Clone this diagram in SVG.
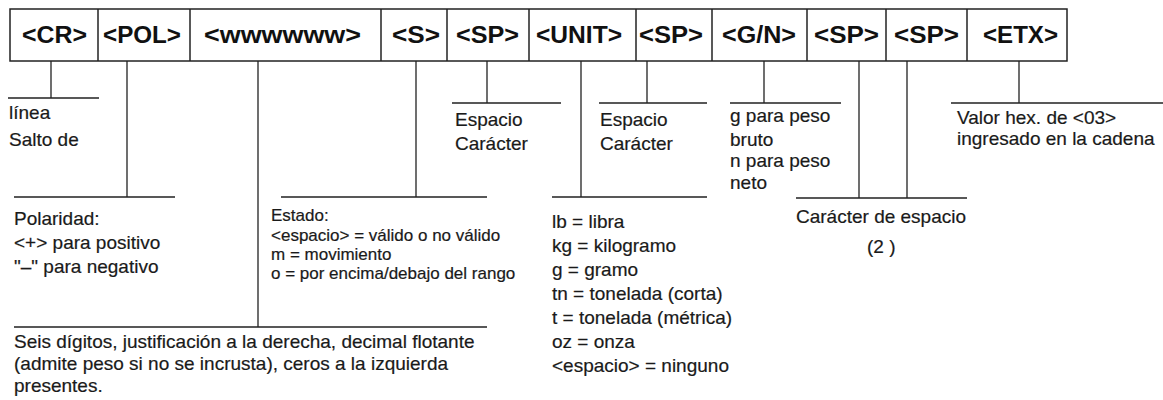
<svg xmlns="http://www.w3.org/2000/svg" width="1163" height="400" viewBox="0 0 1163 400">
<style>
.bx{fill:#fff;stroke:#222;stroke-width:1.5}
.dv{stroke:#222;stroke-width:1.5}
.ld{stroke:#222;stroke-width:1.3;fill:none}
.lb{font-family:"Liberation Sans",Arial,sans-serif;font-weight:bold;font-size:23px;fill:#111;text-anchor:middle}
.t{font-family:"Liberation Sans",Arial,sans-serif;font-size:19px;fill:#1a1a1a;stroke:#1a1a1a;stroke-width:0.2}
.s{font-family:"Liberation Sans",Arial,sans-serif;font-size:17px;fill:#1a1a1a;stroke:#1a1a1a;stroke-width:0.2}
</style>
<rect width="1163" height="400" fill="#fff"/>
<g id="frame">
<rect class="bx" x="10" y="9" width="1057" height="52"/>
<line class="dv" x1="98" y1="9" x2="98" y2="61"/>
<line class="dv" x1="190" y1="9" x2="190" y2="61"/>
<line class="dv" x1="381" y1="9" x2="381" y2="61"/>
<line class="dv" x1="447" y1="9" x2="447" y2="61"/>
<line class="dv" x1="529" y1="9" x2="529" y2="61"/>
<line class="dv" x1="636" y1="9" x2="636" y2="61"/>
<line class="dv" x1="712" y1="9" x2="712" y2="61"/>
<line class="dv" x1="807" y1="9" x2="807" y2="61"/>
<line class="dv" x1="886" y1="9" x2="886" y2="61"/>
<line class="dv" x1="967" y1="9" x2="967" y2="61"/>
</g>
<g id="field-cr"><text class="lb" x="54.5" y="43" textLength="65" lengthAdjust="spacingAndGlyphs">&lt;CR&gt;</text></g>
<g id="field-pol"><text class="lb" x="142" y="43" textLength="78" lengthAdjust="spacingAndGlyphs">&lt;POL&gt;</text></g>
<g id="field-w"><text class="lb" x="282.5" y="43" textLength="157" lengthAdjust="spacingAndGlyphs">&lt;wwwwww&gt;</text></g>
<g id="field-s"><text class="lb" x="416" y="43" textLength="48" lengthAdjust="spacingAndGlyphs">&lt;S&gt;</text></g>
<g id="field-sp1"><text class="lb" x="487.5" y="43" textLength="63" lengthAdjust="spacingAndGlyphs">&lt;SP&gt;</text></g>
<g id="field-unit"><text class="lb" x="579" y="43" textLength="86" lengthAdjust="spacingAndGlyphs">&lt;UNIT&gt;</text></g>
<g id="field-sp2"><text class="lb" x="671" y="43" textLength="64" lengthAdjust="spacingAndGlyphs">&lt;SP&gt;</text></g>
<g id="field-gn"><text class="lb" x="759" y="43" textLength="74" lengthAdjust="spacingAndGlyphs">&lt;G/N&gt;</text></g>
<g id="field-sp3"><text class="lb" x="846.5" y="43" textLength="65" lengthAdjust="spacingAndGlyphs">&lt;SP&gt;</text></g>
<g id="field-sp4"><text class="lb" x="926.5" y="43" textLength="65" lengthAdjust="spacingAndGlyphs">&lt;SP&gt;</text></g>
<g id="field-etx"><text class="lb" x="1020.5" y="43" textLength="75" lengthAdjust="spacingAndGlyphs">&lt;ETX&gt;</text></g>

<g id="connectors">
<path class="ld" d="M51 61V98M8 98H99"/>
<path class="ld" d="M127 61V197M14 197H175"/>
<path class="ld" d="M258 61V327M14 327H487"/>
<path class="ld" d="M416 61V197M281 197H487"/>
<path class="ld" d="M487 61V103M452 103H561"/>
<path class="ld" d="M581 61V197M552 197H707"/>
<path class="ld" d="M647 61V103M599 103H707"/>
<path class="ld" d="M764 61V103M730 103H841"/>
<path class="ld" d="M859 61V198M907 61V198M796 198H967"/>
<path class="ld" d="M1019 61V103M951 103H1163"/>
</g>

<g id="note-cr">
<text class="t" x="9" y="119">línea</text>
<text class="t" x="9" y="146">Salto de</text>
</g>
<g id="note-sp1">
<text class="t" x="455" y="126">Espacio</text>
<text class="t" x="455" y="150">Carácter</text>
</g>
<g id="note-sp2">
<text class="t" x="600" y="126">Espacio</text>
<text class="t" x="600" y="150">Carácter</text>
</g>
<g id="note-gn">
<text class="t" x="730" y="122">g para peso</text>
<text class="t" x="730" y="146">bruto</text>
<text class="t" x="730" y="167">n para peso</text>
<text class="t" x="730" y="189">neto</text>
</g>
<g id="note-etx">
<text class="t" x="957" y="124">Valor hex. de &lt;03&gt;</text>
<text class="t" x="957" y="145">ingresado en la cadena</text>
</g>
<g id="note-pol">
<text class="t" x="14" y="225">Polaridad:</text>
<text class="t" x="14" y="249">&lt;+&gt; para positivo</text>
<text class="t" x="14" y="273">"–" para negativo</text>
</g>
<g id="note-s">
<text class="s" x="271" y="221">Estado:</text>
<text class="s" x="271" y="241">&lt;espacio&gt; = válido o no válido</text>
<text class="s" x="271" y="260">m = movimiento</text>
<text class="s" x="271" y="279">o = por encima/debajo del rango</text>
</g>
<g id="note-unit">
<text class="t" x="552" y="228">lb = libra</text>
<text class="t" x="552" y="252">kg = kilogramo</text>
<text class="t" x="552" y="276">g = gramo</text>
<text class="t" x="552" y="300">tn = tonelada (corta)</text>
<text class="t" x="552" y="324">t = tonelada (métrica)</text>
<text class="t" x="552" y="348">oz = onza</text>
<text class="t" x="552" y="372">&lt;espacio&gt; = ninguno</text>
</g>
<g id="note-sp34">
<text class="t" x="796" y="223">Carácter de espacio</text>
<text class="t" x="867" y="253">(2 )</text>
</g>
<g id="note-w">
<text class="t" x="14" y="348">Seis dígitos, justificación a la derecha, decimal flotante</text>
<text class="t" x="14" y="370">(admite peso si no se incrusta), ceros a la izquierda</text>
<text class="t" x="14" y="392">presentes.</text>
</g>
</svg>
